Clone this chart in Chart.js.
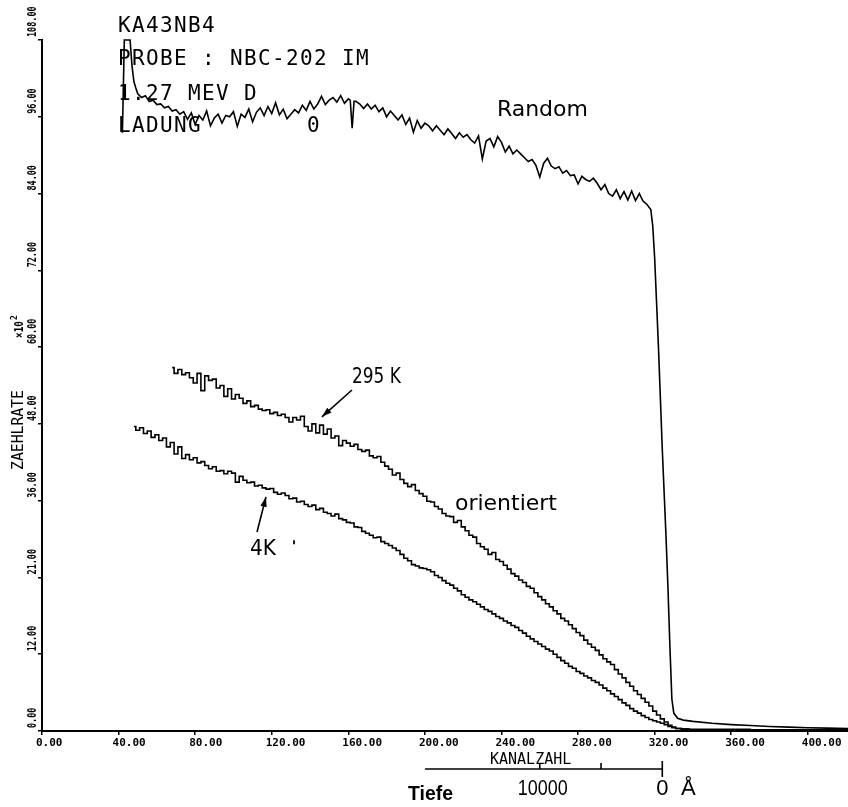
<!DOCTYPE html>
<html><head><meta charset="utf-8">
<script src="https://cdn.jsdelivr.net/npm/chart.js@4/dist/chart.umd.min.js"></script>
<style>html,body{margin:0;padding:0;background:#fff}#wrap{position:relative;width:848px;height:807px}</style>
</head><body><div id="wrap"><canvas id="c"></canvas></div>
<script>
// ---- axis ticks ----
const yTickValues = [0,12,24,36,48,60,72,84,96,108];
const yTickLabels = ['0.00','12.00','21.00','36.00','48.00','60.00','72.00','84.00','96.00','108.00'];

// ---- series: [Kanalzahl, Zaehlrate x10^2] ----
const randomCounts = [[42,93.5],[43,108],[44,108],[46,108],[47,104],[48,101.5],[49,100.5],[50,99.6],[52,99.0],[54,99.3],[56,98.4],[58,98.6],[60,97.9],[62,98.0],[64,97.4],[66,97.6],[68,96.9],[70,97.1],[72,96.4],[74,96.8],[76,95.6],[78,96.6],[80,94.8],[82,96.2],[84,95.5],[86,96.9],[88,94.6],[90,95.8],[92,96.4],[94,95.0],[96,96.2],[98,96.0],[100,96.8],[102,94.5],[104,96.4],[106,95.9],[108,97.2],[110,95.2],[112,96.7],[114,97.4],[116,96.2],[118,97.6],[120,96.5],[122,98.2],[124,96.3],[126,97.2],[128,95.7],[130,96.4],[132,97.1],[134,96.6],[136,97.8],[138,97.0],[140,98.4],[142,97.2],[144,98.0],[146,99.2],[148,97.9],[150,98.6],[152,99.0],[154,98.3],[156,99.3],[158,98.1],[160,98.8],[161,98.6],[162,94.2],[163,98.4],[164,98.4],[166,98.0],[168,97.3],[170,98.0],[172,97.2],[174,97.8],[176,96.8],[178,97.4],[180,96.0],[182,96.9],[184,96.2],[186,95.5],[188,96.3],[190,94.8],[192,95.8],[194,93.6],[196,95.4],[198,94.2],[200,95.0],[202,94.6],[204,93.8],[206,94.6],[208,93.9],[210,93.2],[212,94.1],[214,93.4],[216,92.6],[218,93.5],[220,92.8],[222,93.2],[224,92.4],[226,91.9],[228,93.0],[230,89.4],[232,92.2],[234,92.6],[236,91.3],[238,92.9],[240,92.0],[242,90.5],[244,91.4],[246,90.2],[248,90.8],[250,90.2],[252,89.6],[254,89.0],[256,89.3],[258,88.4],[260,86.6],[262,88.7],[264,89.5],[266,88.3],[268,87.9],[270,88.2],[272,87.2],[274,87.6],[276,86.8],[278,86.9],[280,85.5],[282,86.7],[284,86.2],[286,85.9],[288,86.4],[290,85.6],[292,84.6],[294,85.4],[296,84.0],[298,83.6],[300,84.6],[302,83.2],[304,84.3],[306,83.0],[308,84.4],[310,82.9],[312,84.0],[314,82.8],[316,82.3],[318,81.5],[319,79],[320,74],[321,67],[322,60],[323,52],[324,44],[325,37],[326,30],[327,22],[328,13],[329,5],[330,2.8],[332,2.0],[335,1.7],[340,1.5],[350,1.2],[360,1.0],[370,0.85],[380,0.7],[390,0.6],[400,0.5],[410,0.45],[421,0.4]];

const orient295K = [[68,56.8],[70,55.9],[72,56.5],[74,55.7],[76,56.0],[78,55.2],[80,54.4],[82,55.9],[84,53.2],[86,55.5],[88,54.8],[90,55.0],[92,53.6],[94,54.0],[96,52.3],[98,53.5],[100,51.9],[102,52.6],[104,52.0],[106,51.2],[108,51.6],[110,50.7],[112,50.9],[114,50.3],[116,50.1],[118,50.2],[120,49.6],[122,49.8],[124,49.3],[126,49.5],[128,49.0],[130,48.3],[132,49.0],[134,48.6],[136,49.2],[138,47.6],[140,46.9],[142,48.0],[144,46.6],[146,47.8],[148,46.4],[150,47.2],[152,45.8],[154,46.1],[156,44.6],[158,45.4],[160,45.0],[162,44.5],[164,44.8],[166,44.0],[168,43.7],[170,43.9],[172,43.0],[174,42.7],[176,42.9],[178,42.0],[180,41.4],[182,40.9],[184,40.0],[186,40.3],[188,39.3],[190,38.7],[192,38.2],[194,38.5],[196,37.6],[198,37.1],[200,36.7],[202,35.9],[204,35.8],[206,35.1],[208,34.7],[210,34.0],[212,33.6],[214,33.5],[216,32.6],[218,32.9],[220,31.9],[222,31.3],[224,30.6],[226,30.3],[228,29.3],[230,28.8],[232,28.4],[234,27.6],[236,27.9],[238,26.8],[240,26.5],[242,25.9],[244,25.3],[246,24.6],[248,24.2],[250,23.6],[252,23.2],[254,22.6],[256,22.3],[258,21.6],[260,21.0],[262,20.5],[264,19.9],[266,19.4],[268,18.8],[270,18.3],[272,17.6],[274,17.2],[276,16.6],[278,16.0],[280,15.4],[282,14.9],[284,14.2],[286,13.6],[288,13.1],[290,12.6],[292,11.9],[294,11.3],[296,10.8],[298,10.4],[300,9.6],[302,8.9],[304,8.3],[306,7.6],[308,7.0],[310,6.3],[312,5.7],[314,5.1],[316,4.5],[318,3.9],[320,3.1],[322,2.5],[324,1.9],[326,1.4],[328,0.9],[330,0.6],[332,0.4],[336,0.3],[340,0.25],[360,0.25],[380,0.2],[400,0.2],[421,0.2]];

const orient4K = [[48,47.6],[50,47.0],[52,47.4],[54,46.5],[56,46.9],[58,45.9],[60,46.3],[62,45.4],[64,45.8],[66,44.4],[68,45.1],[70,43.3],[72,44.4],[74,42.6],[76,43.2],[78,42.4],[80,42.7],[82,41.9],[84,42.1],[86,41.5],[88,41.0],[90,41.3],[92,40.6],[94,40.7],[96,40.2],[98,40.6],[100,40.3],[102,38.9],[104,39.8],[106,39.2],[108,38.8],[110,38.9],[112,38.3],[114,38.4],[116,38.0],[118,37.8],[120,37.9],[122,37.3],[124,37.0],[126,37.2],[128,36.8],[130,36.3],[132,36.4],[134,35.8],[136,35.9],[138,35.4],[140,35.1],[142,35.3],[144,34.6],[146,34.8],[148,34.2],[150,34.0],[152,33.6],[154,33.9],[156,33.2],[158,33.0],[160,32.6],[162,32.5],[164,31.9],[166,31.8],[168,31.2],[170,30.9],[172,30.6],[174,30.2],[176,30.3],[178,29.6],[180,29.3],[182,29.0],[184,28.6],[186,28.2],[188,27.6],[190,27.0],[192,26.6],[194,26.0],[196,25.8],[198,25.5],[200,25.4],[202,25.2],[204,24.9],[206,24.3],[208,24.0],[210,23.5],[212,23.1],[214,22.8],[216,22.3],[218,21.9],[220,21.3],[222,20.9],[224,20.5],[226,20.2],[228,19.8],[230,19.4],[232,19.0],[234,18.7],[236,18.3],[238,17.9],[240,17.6],[242,17.2],[244,16.9],[246,16.5],[248,16.2],[250,15.7],[252,15.3],[254,14.8],[256,14.4],[258,14.0],[260,13.6],[262,13.2],[264,12.8],[266,12.5],[268,12.0],[270,11.5],[272,11.0],[274,10.6],[276,10.1],[278,9.8],[280,9.3],[282,9.0],[284,8.6],[286,8.3],[288,7.9],[290,7.6],[292,7.2],[294,6.7],[296,6.3],[298,5.8],[300,5.4],[302,4.9],[304,4.4],[306,4.0],[308,3.5],[310,3.1],[312,2.8],[314,2.4],[316,2.1],[318,1.8],[320,1.6],[322,1.4],[324,1.2],[326,1.0],[328,0.7],[330,0.5],[332,0.4],[336,0.3],[340,0.2],[380,0.15],[421,0.15]];

// depth scale (Tiefe): channel of 0 A, 5000 A, 10000 A, and left end of the bar
const depthTickCh = [324, 292, 260];
const depthBarStartCh = 200;

// header text lines (plotter)
const headerLines = ['KA43NB4', 'PROBE : NBC-202 IM', '1.27 MEV D', 'LADUNG'];

const toXY = a => a.map(([x, y]) => ({x, y}));

function monoText(ctx, text, x, y, adv) {
  for (let i = 0; i < text.length; i++) ctx.fillText(text[i], x + i * adv, y);
}
function arrow(ctx, x1, y1, x2, y2) {
  ctx.beginPath(); ctx.moveTo(x1, y1); ctx.lineTo(x2, y2); ctx.lineWidth = 1.6; ctx.stroke();
  const a = Math.atan2(y2 - y1, x2 - x1), L = 10, W = 3.2;
  ctx.beginPath();
  ctx.moveTo(x2, y2);
  ctx.lineTo(x2 - L * Math.cos(a) + W * Math.sin(a), y2 - L * Math.sin(a) - W * Math.cos(a));
  ctx.lineTo(x2 - L * Math.cos(a) - W * Math.sin(a), y2 - L * Math.sin(a) + W * Math.cos(a));
  ctx.closePath(); ctx.fill();
}

const annot = {
  id: 'annot',
  afterDraw(chart) {
    const {ctx, scales: {x, y}, chartArea} = chart;
    const X = v => x.getPixelForValue(v), Y = v => y.getPixelForValue(v);
    ctx.save();
    ctx.fillStyle = '#000'; ctx.strokeStyle = '#000';

    // y tick labels, rotated (read bottom to top)
    ctx.font = 'bold 13px "DejaVu Sans Mono"';
    yTickValues.forEach((v, i) => {
      const t = yTickLabels[i];
      ctx.save();
      ctx.translate(chartArea.left - 9, Y(v) - 3);
      ctx.rotate(-Math.PI / 2);
      ctx.textAlign = 'left'; ctx.textBaseline = 'middle';
      ctx.fillText(t, 0, 0, t.length * 5.1);
      ctx.restore();
    });

    // y axis title
    ctx.save();
    ctx.translate(19, 430); ctx.rotate(-Math.PI / 2);
    ctx.font = '15px "DejaVu Sans Mono"'; ctx.textAlign = 'center'; ctx.textBaseline = 'middle';
    ctx.fillText('ZAEHLRATE', 0, 0, 80);
    ctx.restore();
    ctx.save();
    ctx.translate(20, 338); ctx.rotate(-Math.PI / 2);
    ctx.font = 'bold 13px "DejaVu Sans Mono"'; ctx.textAlign = 'left'; ctx.textBaseline = 'middle';
    ctx.fillText('\u00d710', 0, 0, 17);
    ctx.font = 'bold 8px "DejaVu Sans Mono"';
    ctx.fillText('2', 18, -5);
    ctx.restore();

    // header (plotter text)
    ctx.font = '21px "DejaVu Sans Mono"'; ctx.textAlign = 'left'; ctx.textBaseline = 'alphabetic';
    const hb = [32, 65, 100, 132];
    headerLines.forEach((t, i) => monoText(ctx, t, 118, hb[i], 14));
    ctx.fillText('0', 307, 132);

    // curve labels
    ctx.font = '22px "DejaVu Sans"';
    ctx.fillText('Random', X(237.6), Y(96.1));
    ctx.fillText('orientiert', X(215.7), Y(34.5));
    ctx.font = '21px "DejaVu Sans"';
    ctx.fillText('295 K', X(161.9), Y(54.4), 49);
    ctx.fillText('4K', X(108.6), Y(27.5), 26);
    arrow(ctx, X(161.9), Y(53.3), X(146.2), Y(49.1));
    arrow(ctx, X(112.3), Y(31.1), X(117.0), Y(36.6));
    ctx.fillRect(X(131.6) - 0.8, Y(29.5) - 2, 1.8, 4);

    // bottom: KANALZAHL and depth scale
    const base = chartArea.bottom;
    ctx.font = '15px "DejaVu Sans Mono"';
    ctx.fillText('KANALZAHL', X(234), base + 33, 83);
    ctx.lineWidth = 1.6;
    ctx.beginPath();
    ctx.moveTo(X(depthBarStartCh), base + 38); ctx.lineTo(X(depthTickCh[0]), base + 38);
    ctx.moveTo(X(depthTickCh[1]), base + 38); ctx.lineTo(X(depthTickCh[1]), base + 32);
    ctx.moveTo(X(depthTickCh[2]), base + 38); ctx.lineTo(X(depthTickCh[2]), base + 33);
    ctx.moveTo(X(depthTickCh[0]), base + 30); ctx.lineTo(X(depthTickCh[0]), base + 46);
    ctx.stroke();
    ctx.font = '22px "Liberation Sans"'; ctx.textAlign = 'center';
    ctx.fillText('10000', X(depthTickCh[2]) + 3, base + 64, 50);
    ctx.fillText('0', X(depthTickCh[0]), base + 64);
    ctx.fillText('\u00c5', X(depthTickCh[0]) + 26, base + 64);
    ctx.textAlign = 'left';
    ctx.font = 'bold 20px "Liberation Sans"';
    ctx.fillText('Tiefe', 408, base + 69, 45);
    ctx.restore();
  }
};

const ds = (data, stepped) => ({data: toXY(data), borderColor: '#000', borderWidth: 1.6, pointRadius: 0,
  stepped: stepped, fill: false, clip: 4});

new Chart(document.getElementById('c'), {
  type: 'line',
  data: {datasets: [ds(randomCounts, false), ds(orient295K, 'middle'), ds(orient4K, 'middle')]},
  options: {
    responsive: true, maintainAspectRatio: false, animation: false,
    layout: {padding: {top: 40, left: 0, right: 0, bottom: 0}},
    plugins: {legend: {display: false}, tooltip: {enabled: false}},
    scales: {
      x: {
        type: 'linear', min: 0, max: 421,
        grid: {drawOnChartArea: false, drawTicks: true, tickLength: 4, color: '#000', lineWidth: 1.5},
        border: {color: '#000', width: 2},
        ticks: {stepSize: 40, includeBounds: false, autoSkip: false, maxRotation: 0, minRotation: 0,
          align: 'start', labelOffset: -6, padding: 2, color: '#000',
          font: {family: 'DejaVu Sans Mono', size: 11, weight: 'bold'},
          callback: v => Number(v).toFixed(2)},
        afterFit(s) { s.height = 76; s.paddingLeft = 0; s.paddingRight = 0; }
      },
      y: {
        min: 0, max: 108,
        grid: {drawOnChartArea: false, drawTicks: true, tickLength: 4, color: '#000', lineWidth: 1.5},
        border: {color: '#000', width: 2},
        ticks: {stepSize: 12, display: false},
        afterFit(s) { s.width = 42; s.paddingTop = 0; s.paddingBottom = 0; }
      }
    }
  },
  plugins: [annot]
});
</script></body></html>
